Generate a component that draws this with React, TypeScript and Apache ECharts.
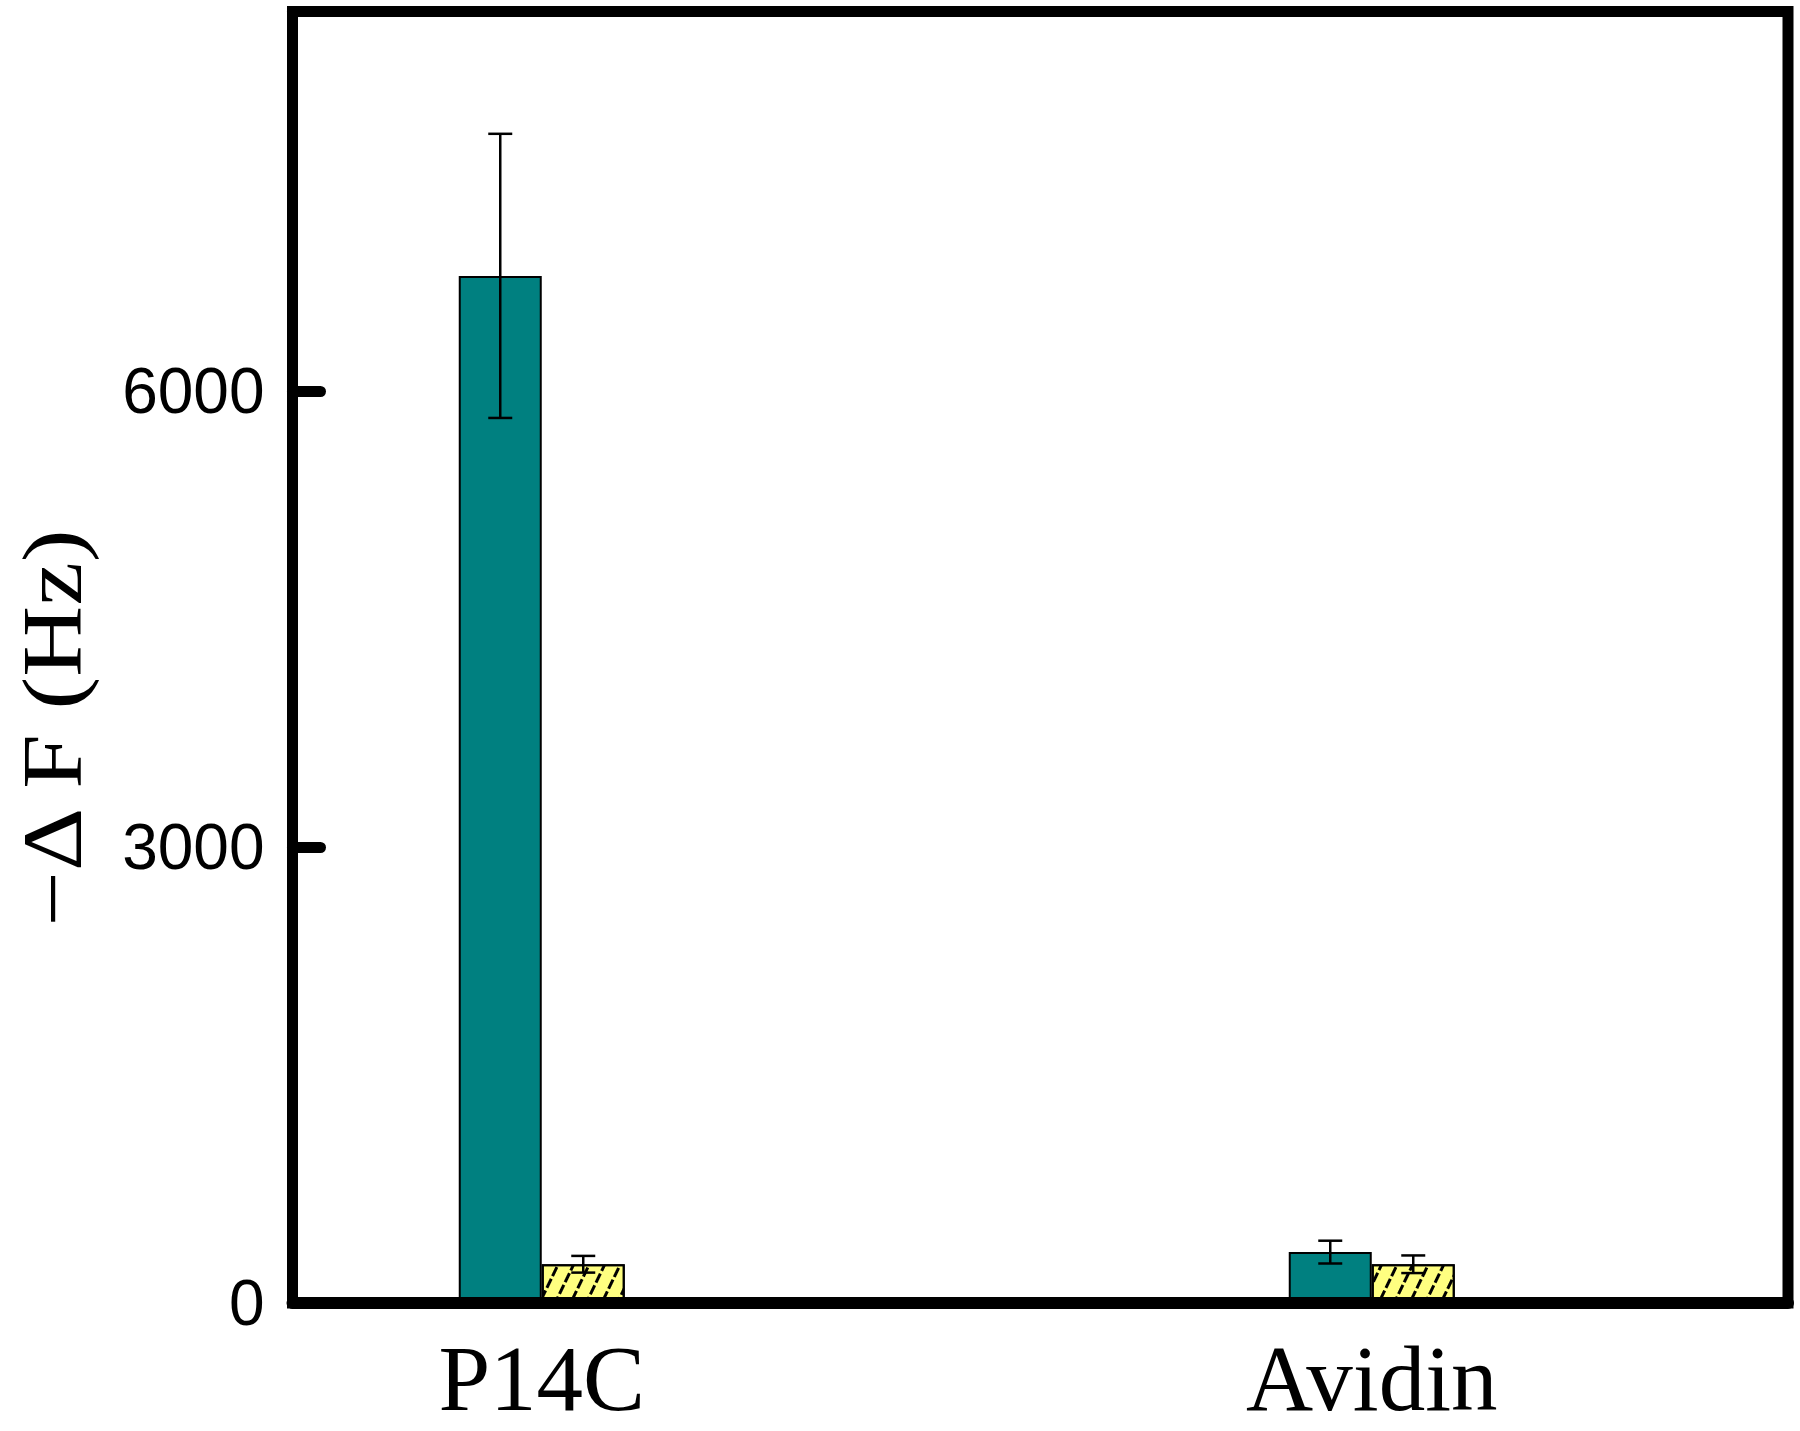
import React, { useEffect, useRef } from "react";
import * as echarts from "echarts";

// ---- data ----
const categories = ["P14C", "Avidin"];
const categoryPositions = [1, 4.33];
const tealValues = [6760, 335];
const tealErrors = [935, 75];
const yellowValues = [255, 255];
const yellowErrors = [55, 58];
const yTickValues = [0, 3000, 6000];
const yTitle = "\u2212\u0394 F (Hz)";

const BAR_W = 83;
const CAP = 12;

function errorSeries(values: number[], errors: number[], offset: number) {
  return {
    type: "custom",
    z: 5,
    clip: false,
    data: categoryPositions.map((x, i) => [x, values[i], errors[i]]),
    renderItem: (params: any, api: any) => {
      const x = api.value(0);
      const v = api.value(1);
      const e = api.value(2);
      const c = api.coord([x, v]);
      const top = api.coord([x, v + e]);
      const bot = api.coord([x, v - e]);
      const cx = c[0] + offset;
      const st = { stroke: "#000", lineWidth: 2.5 };
      return {
        type: "group",
        children: [
          { type: "line", shape: { x1: cx, y1: top[1], x2: cx, y2: bot[1] }, style: st },
          { type: "line", shape: { x1: cx - CAP, y1: top[1], x2: cx + CAP, y2: top[1] }, style: st },
          { type: "line", shape: { x1: cx - CAP, y1: bot[1], x2: cx + CAP, y2: bot[1] }, style: st },
        ],
      };
    },
  };
}

export default function App() {
  const ref = useRef<HTMLDivElement>(null);
  useEffect(() => {
    if (!ref.current) return;
    const chart = echarts.init(ref.current, null, { renderer: "svg" });
    chart.setOption({
      animation: false,
      backgroundColor: "#ffffff",
      grid: {
        left: 292.5,
        right: 12,
        top: 11.5,
        bottom: 128,
        show: true,
        borderColor: "#000",
        borderWidth: 11,
        backgroundColor: "transparent",
      },
      xAxis: {
        type: "value",
        min: 0,
        max: 6,
        z: 10,
        splitLine: { show: false },
        axisTick: { show: false },
        axisLine: { show: true, lineStyle: { color: "#000", width: 12 } },
        axisLabel: {
          customValues: categoryPositions,
          formatter: (v: number) => {
            let best = 0;
            categoryPositions.forEach((p, i) => {
              if (Math.abs(p - v) < Math.abs(categoryPositions[best] - v)) best = i;
            });
            return categories[best];
          },
          fontFamily: "Liberation Serif, Times New Roman, serif",
          fontSize: 93,
          color: "#000",
          margin: 29,
        },
      },
      yAxis: {
        type: "value",
        min: 0,
        max: 8500,
        interval: 3000,
        z: 10,
        splitLine: { show: false },
        axisLine: { show: true, lineStyle: { color: "#000", width: 11 } },
        axisTick: {
          show: true,
          inside: true,
          length: 28,
          customValues: [3000, 6000],
          lineStyle: { color: "#000", width: 11, cap: "round" },
        },
        axisLabel: {
          customValues: yTickValues,
          formatter: (v: number) => String(v),
          fontFamily: "Liberation Sans, Arial, sans-serif",
          fontSize: 64,
          color: "#000",
          margin: 28,
        },
      },
      graphic: [
        {
          type: "text",
          x: 53,
          y: 728,
          rotation: Math.PI / 2,
          scaleX: 1.17,
          style: {
            text: yTitle,
            font: "84px 'Liberation Serif', 'Times New Roman', serif",
            fill: "#000",
            align: "center",
            verticalAlign: "middle",
          },
        },
      ],
      series: [
        {
          type: "bar",
          barWidth: BAR_W,
          barGap: "0%",
          z: 2,
          data: categoryPositions.map((x, i) => [x, tealValues[i]]),
          itemStyle: { color: "#008080", borderColor: "#000", borderWidth: 2 },
        },
        {
          type: "bar",
          barWidth: BAR_W,
          barGap: "0%",
          z: 2,
          data: categoryPositions.map((x, i) => [x, yellowValues[i]]),
          itemStyle: {
            color: "#ffff80",
            borderColor: "#000",
            borderWidth: 2,
            decal: {
              symbol: "rect",
              symbolSize: 1,
              color: "#000",
              backgroundColor: "#ffff80",
              dashArrayX: [[10, 3]],
              dashArrayY: [2.5, 11],
              rotation: -Math.PI / 2.8,
            },
          },
        },
        errorSeries(tealValues, tealErrors, -BAR_W / 2),
        errorSeries(yellowValues, yellowErrors, BAR_W / 2),
      ],
    });
    return () => chart.dispose();
  }, []);
  return (
    <div
      ref={ref}
      style={{ position: "absolute", left: 0, top: 0, width: 1800, height: 1431, background: "#fff" }}
    />
  );
}
